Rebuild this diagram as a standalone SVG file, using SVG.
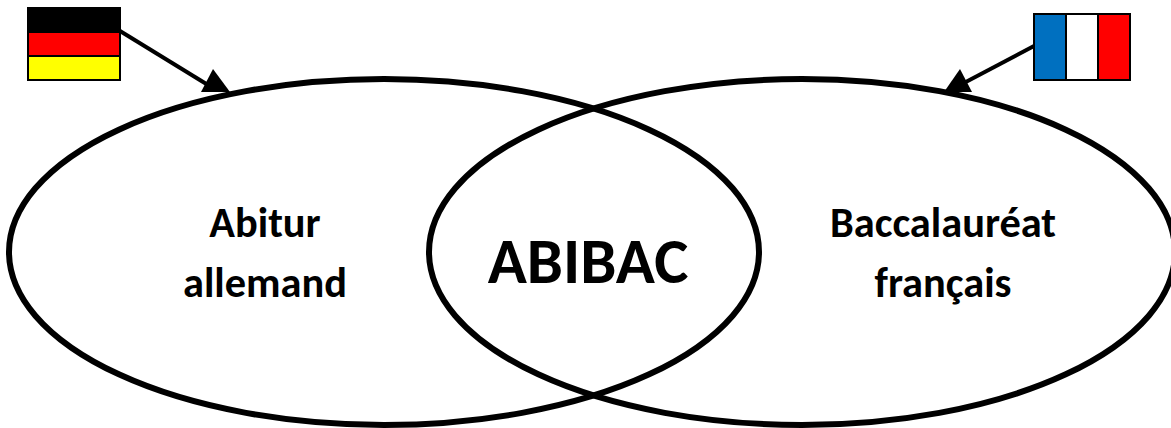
<svg xmlns="http://www.w3.org/2000/svg" width="1171" height="428" viewBox="0 0 1171 428">
<style>
.e{fill:none;stroke:#000;stroke-width:6}
.l{font-family:Carlito,"Liberation Sans",sans-serif;font-weight:700;fill:#000;text-anchor:middle;font-size:42.4px}
.f{stroke:#000;stroke-width:2}
.c{stroke:#000;stroke-width:4;fill:none}
</style>
<rect width="1171" height="428" fill="#fff"/>
<g id="connectors">
<path class="c" d="M120 31L208 85"/>
<path d="M213 69L201 92L230 92Z" fill="#000"/>
<path class="c" d="M1034 46L962 84"/>
<path d="M960 69L944 92L972 92Z" fill="#000"/>
</g>
<g id="left"><ellipse class="e" cx="384" cy="252" rx="375" ry="173"/><text class="l" x="265" y="237">Abitur</text><text class="l" x="265" y="297">allemand</text></g>
<g id="right"><ellipse class="e" cx="802" cy="252" rx="373" ry="173"/><text class="l" x="943" y="237">Baccalauréat</text><text class="l" x="943" y="297">français</text></g>
<g id="center"><text class="l" x="588" y="283" style="font-size:64.6px">ABIBAC</text></g>
<g id="flag-de"><rect class="f" x="28" y="8" width="92" height="24" fill="#000"/><rect class="f" x="28" y="32" width="92" height="24" fill="#f00"/><rect class="f" x="28" y="56" width="92" height="24" fill="#ff0"/></g>
<g id="flag-fr"><rect class="f" x="1034" y="14" width="32" height="66" fill="#0070c0"/><rect class="f" x="1066" y="14" width="32" height="66" fill="#fff"/><rect class="f" x="1098" y="14" width="32" height="66" fill="#f00"/></g>
</svg>
